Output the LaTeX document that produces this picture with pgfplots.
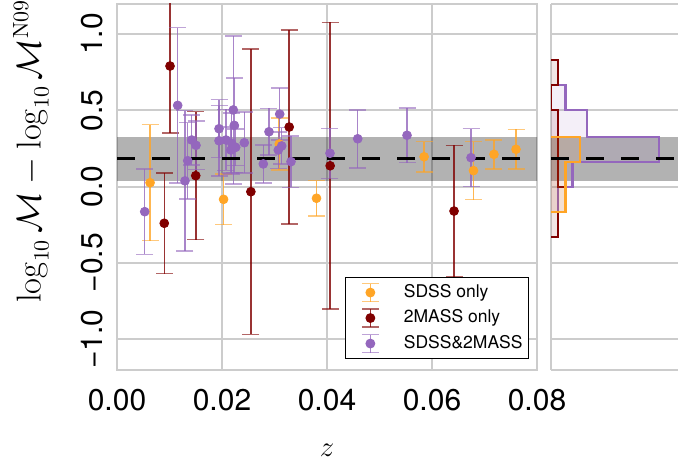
\documentclass[border=0pt]{standalone}
\usepackage[no-math]{fontspec}
\usepackage{pgfplots}
\usepackage{pgfplotstable}
\pgfplotsset{compat=1.18}
\newfontfamily\hv{TeX Gyre Heros}
\definecolor{cor}{RGB}{255,165,38}
\definecolor{cred}{RGB}{128,0,0}
\definecolor{cpur}{RGB}{148,103,189}
\definecolor{spine}{RGB}{204,204,204}

\pgfplotstableread{
x y e
0.0063 0.025 0.38
0.0203 -0.084 0.166
0.0380 -0.077 0.115
0.0309 0.279 0.17
0.0585 0.195 0.10
0.0679 0.104 0.19
0.0718 0.211 0.095
0.0760 0.244 0.13
}\orangedata

\pgfplotstableread{
x y e
0.0101 0.790 0.44
0.0090 -0.241 0.33
0.0150 0.071 0.42
0.0255 -0.034 0.935
0.0328 0.390 0.636
0.0406 0.136 0.94
0.0642 -0.161 0.43
}\reddata

\pgfplotstableread{
x y e
0.00528 -0.165 0.28
0.01156 0.532 0.51
0.01295 0.037 0.46
0.01347 0.169 0.25
0.01423 0.305 0.165
0.01505 0.270 0.16
0.01943 0.379 0.19
0.01943 0.300 0.23
0.02076 0.305 0.20
0.02215 0.502 0.485
0.02234 0.401 0.31
0.02185 0.283 0.20
0.02171 0.239 0.15
0.02261 0.257 0.12
0.02425 0.287 0.20
0.02895 0.359 0.153
0.03099 0.475 0.17
0.03072 0.239 0.12
0.03137 0.266 0.12
0.02787 0.148 0.125
0.03314 0.163 0.168
0.04057 0.218 0.164
0.04585 0.313 0.19
0.05524 0.336 0.18
0.06743 0.189 0.19
}\purpledata

\begin{document}
\begin{tikzpicture}
\begin{axis}[
  at={(58.5pt,46.75pt)}, anchor=south west,
  scale only axis, width=210pt, height=183pt,
  xmin=0, xmax=0.08, ymin=-1.2, ymax=1.2,
  scaled x ticks=false, scaled y ticks=false,
  axis line style={spine, line width=1pt},
  major tick length=0pt,
  xtick={0,0.02,0.04,0.06,0.08}, xticklabels={0.00,0.02,0.04,0.06,0.08},
  ytick={-1,-0.5,0,0.5,1}, yticklabels={−1.0,−0.5,0.0,0.5,1.0},
  xmajorgrids, ymajorgrids, major grid style={spine, line width=1pt},
  ticklabel style={font=\hv\fontsize{15}{18}\selectfont},
  yticklabel style={rotate=90, anchor=south},
  xticklabel shift=6.25pt, yticklabel shift=3.5pt,
  xlabel={$z$},
  xlabel style={font=\fontsize{15}{18}\selectfont, at={(axis description cs:0.5,0)}, anchor=center, yshift=-40.25pt},
  ylabel={$\log_{10}\mathcal{M}-\log_{10}\mathcal{M}^{\mathrm{N09}}$},
  ylabel style={font=\fontsize{16}{19}\selectfont, at={(axis description cs:-0.205,0.597)}, anchor=center},
  legend style={at={(axis description cs:0.981,0.0287)}, anchor=south east,
    draw=black, line width=0.5pt, fill=white,
    font=\hv\fontsize{8.75}{10}\selectfont,
    inner xsep=3pt, inner ysep=2.6pt, row sep=3pt, column sep=0pt,
    nodes={inner sep=0pt, text height=6.3pt, text depth=1.8pt}},
  legend cell align=left,
]
\addplot[draw=none, fill=black, fill opacity=0.3, forget plot]
  coordinates {(-0.01,0.036) (0.09,0.036) (0.09,0.325) (-0.01,0.325)};

\addplot[cor, only marks, mark=*, mark size=2.2pt, mark options={draw=none, fill=cor},
  legend image code/.code={
    \draw[cor, line width=0.75pt, draw opacity=0.8] (0pt,-4.5pt) -- (0pt,4.5pt);
    \draw[cor, line width=0.75pt, draw opacity=0.6] (-4.25pt,-4.5pt) -- (4.25pt,-4.5pt) (-4.25pt,4.5pt) -- (4.25pt,4.5pt);
    \fill[cor] (0pt,0pt) circle (2.2pt);
    \path (-9pt,0pt) (16.5pt,0pt);},
  error bars/.cd, y dir=both, y explicit,
  error bar style={line width=0.75pt, draw opacity=0.8},
  error mark options={rotate=90, mark size=4.25pt, line width=0.75pt, draw opacity=0.6}]
  table[x=x, y=y, y error=e] {\orangedata};
\addlegendentry{SDSS only}

\addplot[cred, only marks, mark=*, mark size=2.2pt, mark options={draw=none, fill=cred},
  legend image code/.code={
    \draw[cred, line width=0.75pt, draw opacity=0.8] (0pt,-4.5pt) -- (0pt,4.5pt);
    \draw[cred, line width=0.75pt, draw opacity=0.6] (-4.25pt,-4.5pt) -- (4.25pt,-4.5pt) (-4.25pt,4.5pt) -- (4.25pt,4.5pt);
    \fill[cred] (0pt,0pt) circle (2.2pt);
    \path (-9pt,0pt) (16.5pt,0pt);},
  error bars/.cd, y dir=both, y explicit,
  error bar style={line width=0.75pt, draw opacity=0.8},
  error mark options={rotate=90, mark size=4.25pt, line width=0.75pt, draw opacity=0.6}]
  table[x=x, y=y, y error=e] {\reddata};
\addlegendentry{2MASS only}

\addplot[cpur, only marks, mark=*, mark size=2.2pt, mark options={draw=none, fill=cpur},
  legend image code/.code={
    \draw[cpur, line width=0.75pt, draw opacity=0.8] (0pt,-4.5pt) -- (0pt,4.5pt);
    \draw[cpur, line width=0.75pt, draw opacity=0.6] (-4.25pt,-4.5pt) -- (4.25pt,-4.5pt) (-4.25pt,4.5pt) -- (4.25pt,4.5pt);
    \fill[cpur] (0pt,0pt) circle (2.2pt);
    \path (-9pt,0pt) (16.5pt,0pt);},
  error bars/.cd, y dir=both, y explicit,
  error bar style={line width=0.75pt, draw opacity=0.8},
  error mark options={rotate=90, mark size=4.25pt, line width=0.75pt, draw opacity=0.6}]
  table[x=x, y=y, y error=e] {\purpledata};
\addlegendentry{SDSS\&2MASS}

\addplot[black, line width=1.25pt, dash pattern=on 8.75pt off 8.75pt, forget plot]
  coordinates {(0,0.185) (0.08,0.185)};
\end{axis}

\begin{axis}[
  at={(275.5pt,46.75pt)}, anchor=south west,
  scale only axis, width=63.5pt, height=183pt,
  xmin=0, xmax=17.64, ymin=-1.2, ymax=1.2,
  axis x line=box, axis y line=left,
  axis line style={spine, line width=1pt, -},
  major tick length=0pt,
  xtick=\empty, ytick={-1,-0.5,0,0.5,1}, yticklabels={},
  ymajorgrids, major grid style={spine, line width=1pt},
]
\addplot[draw=none, fill=black, fill opacity=0.3]
  coordinates {(-1,0.036) (20,0.036) (20,0.325) (-1,0.325)};
\addplot[cpur, line width=1.25pt, fill=cpur, fill opacity=0.1]
  coordinates {(0,-0.167) (1,-0.167) (1,-0.003) (3,-0.003) (3,0.161) (15,0.161) (15,0.325) (5,0.325) (5,0.502) (2,0.502) (2,0.666) (0,0.666)};
\addplot[cred, line width=1.25pt, fill=cred, fill opacity=0.1]
  coordinates {(0,-0.331) (1,-0.331) (1,-0.167) (2,-0.167) (2,-0.003) (1,-0.003) (1,0.502) (0,0.502) (0,0.666) (1,0.666) (1,0.830) (0,0.830)};
\addplot[cor, line width=1.25pt, fill=cor, fill opacity=0.1]
  coordinates {(0,-0.167) (2,-0.167) (2,0.161) (4,0.161) (4,0.325) (0,0.325)};
\addplot[black, line width=1.25pt, dash pattern=on 8.75pt off 8.75pt]
  coordinates {(0,0.185) (17.64,0.185)};
\end{axis}
\pgfresetboundingbox
\path[use as bounding box] (0pt,0pt) rectangle (339pt,231.5pt);
\end{tikzpicture}
\end{document}
